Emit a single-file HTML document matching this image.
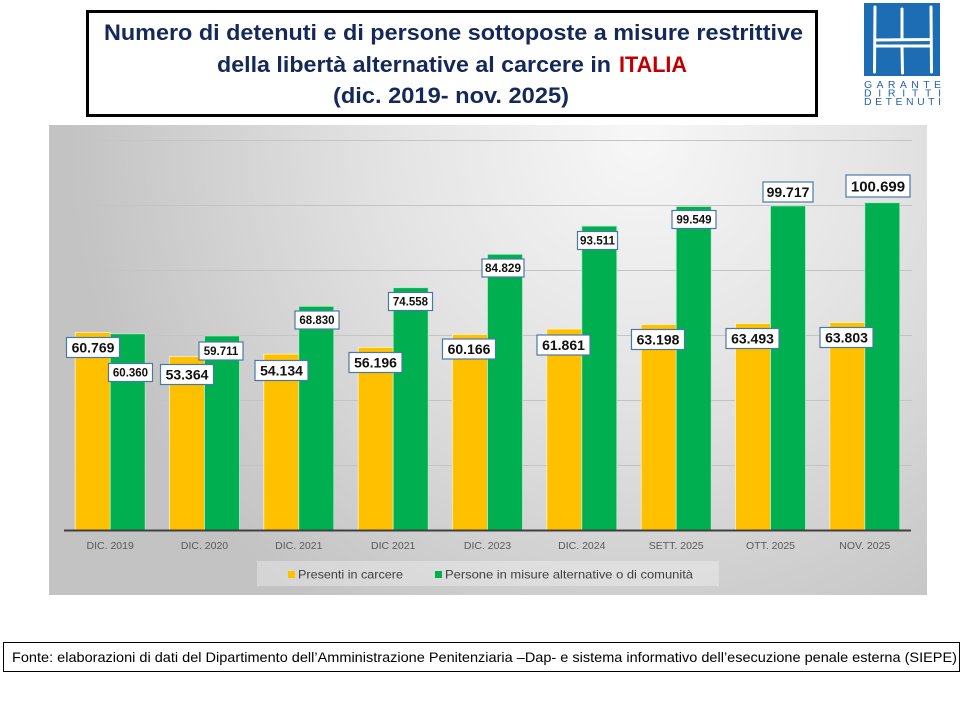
<!DOCTYPE html>
<html>
<head>
<meta charset="utf-8">
<style>
html,body{margin:0;padding:0;background:#fff;}
svg{display:block;}
</style>
</head>
<body>
<svg width="960" height="720" viewBox="0 0 960 720" xmlns="http://www.w3.org/2000/svg">
<defs>
<radialGradient id="bg" gradientUnits="userSpaceOnUse" cx="640" cy="140" r="570">
<stop offset="0" stop-color="#f7f7f7"/>
<stop offset="0.45" stop-color="#e3e3e3"/>
<stop offset="1" stop-color="#c3c3c3"/>
</radialGradient>
</defs>
<rect width="960" height="720" fill="#fff"/>

<!-- Title box -->
<rect x="87.5" y="11.5" width="729" height="104" fill="#fff" stroke="#000" stroke-width="3"/>
<g font-family="'Liberation Sans', sans-serif" font-weight="bold" font-size="22" fill="#14285a">
<text x="104" y="40" textLength="699" lengthAdjust="spacingAndGlyphs">Numero di detenuti e di persone sottoposte a misure restrittive</text>
<text x="217" y="72" textLength="394" lengthAdjust="spacingAndGlyphs">della libertà alternative al carcere in</text>
<text x="619" y="72" textLength="68" lengthAdjust="spacingAndGlyphs" fill="#c00000">ITALIA</text>
<text x="333" y="103" textLength="236" lengthAdjust="spacingAndGlyphs">(dic. 2019- nov. 2025)</text>
</g>

<!-- Logo -->
<rect x="864" y="3" width="76" height="73" fill="#1c6db4"/>
<g stroke="#fff" stroke-width="3" fill="none" stroke-linecap="round">
<path d="M875 7 L874.5 72"/>
<path d="M931 7 L931.5 72"/>
<path d="M902 9 L902 39"/>
<path d="M902 47 L902.5 73"/>
<path d="M875 40 L931 39.5"/>
<path d="M875 46 L931 46"/>
</g>
<g font-family="'Liberation Sans', sans-serif" font-size="10.5" fill="#2466a8">
<text x="864" y="88" textLength="77" lengthAdjust="spacing">GARANTE</text>
<text x="864" y="96.5" textLength="77" lengthAdjust="spacing">DIRITTI</text>
<text x="864" y="105" textLength="77" lengthAdjust="spacing">DETENUTI</text>
</g>

<!-- Chart panel -->
<rect x="49" y="125" width="878" height="470" fill="url(#bg)"/>

<!-- gridlines -->
<g stroke="#c4c4c4" stroke-width="1">
<line x1="63" y1="140.5" x2="912" y2="140.5"/>
<line x1="63" y1="205.5" x2="912" y2="205.5"/>
<line x1="63" y1="270.5" x2="912" y2="270.5"/>
<line x1="63" y1="335.5" x2="912" y2="335.5"/>
<line x1="63" y1="400.5" x2="912" y2="400.5"/>
<line x1="63" y1="465.5" x2="912" y2="465.5"/>
</g>

<!-- bars: yellow -->
<g fill="#ffc000" stroke="#fff3c4" stroke-width="0.8">
<rect x="75.2" y="332.5" width="35" height="197.5"/>
<rect x="169.5" y="356.6" width="35" height="173.4"/>
<rect x="263.8" y="354.1" width="35" height="175.9"/>
<rect x="358.2" y="347.4" width="35" height="182.6"/>
<rect x="452.5" y="334.5" width="35" height="195.5"/>
<rect x="546.8" y="329.0" width="35" height="201.0"/>
<rect x="641.2" y="324.6" width="35" height="205.4"/>
<rect x="735.5" y="323.6" width="35" height="206.4"/>
<rect x="829.8" y="322.6" width="35" height="207.4"/>
</g>
<!-- bars: green -->
<g fill="#00b050" stroke="#b8ecc9" stroke-width="0.8">
<rect x="110.2" y="333.8" width="35" height="196.2"/>
<rect x="204.5" y="335.9" width="35" height="194.1"/>
<rect x="298.8" y="306.3" width="35" height="223.7"/>
<rect x="393.2" y="287.7" width="35" height="242.3"/>
<rect x="487.5" y="254.3" width="35" height="275.7"/>
<rect x="581.8" y="226.1" width="35" height="303.9"/>
<rect x="676.2" y="206.5" width="35" height="323.5"/>
<rect x="770.5" y="205.9" width="35" height="324.1"/>
<rect x="864.8" y="202.7" width="35" height="327.3"/>
</g>

<!-- axis -->
<line x1="64" y1="530.5" x2="911" y2="530.5" stroke="#404040" stroke-width="2"/>

<!-- category labels -->
<g font-family="'Liberation Sans', sans-serif" font-size="10.5" fill="#595959" text-anchor="middle">
<text x="110.2" y="549">DIC. 2019</text>
<text x="204.5" y="549">DIC. 2020</text>
<text x="298.8" y="549">DIC. 2021</text>
<text x="393.2" y="549">DIC 2021</text>
<text x="487.5" y="549">DIC. 2023</text>
<text x="581.8" y="549">DIC. 2024</text>
<text x="676.2" y="549">SETT. 2025</text>
<text x="770.5" y="549">OTT. 2025</text>
<text x="864.8" y="549">NOV. 2025</text>
</g>

<!-- legend -->
<rect x="257" y="561" width="462" height="25" fill="#ffffff" fill-opacity="0.3"/>
<rect x="288" y="571" width="7" height="7" fill="#ffc000"/>
<rect x="435" y="571" width="7" height="7" fill="#00b050"/>
<g font-family="'Liberation Sans', sans-serif" font-size="12" fill="#404040">
<text x="298" y="578.5" textLength="105" lengthAdjust="spacingAndGlyphs">Presenti in carcere</text>
<text x="445" y="578.5" textLength="248" lengthAdjust="spacingAndGlyphs">Persone in misure alternative o di comunità</text>
</g>

<!-- data labels: yellow series -->
<g fill="#fff" stroke="#4a78a6" stroke-width="1.2">
<rect x="66.5" y="337.5" width="53" height="20"/>
<rect x="160.5" y="364.5" width="53" height="20"/>
<rect x="255" y="360.5" width="53" height="20"/>
<rect x="349" y="352.5" width="53" height="20"/>
<rect x="442.5" y="339" width="53" height="20"/>
<rect x="537" y="335" width="53" height="20"/>
<rect x="631.5" y="329.5" width="53" height="20"/>
<rect x="726" y="328.5" width="53" height="20"/>
<rect x="820" y="327.5" width="53" height="20"/>
</g>
<g font-family="'Liberation Sans', sans-serif" font-weight="bold" font-size="14" fill="#111" text-anchor="middle">
<text x="93" y="352.5">60.769</text>
<text x="187" y="379.5">53.364</text>
<text x="281.5" y="375.5">54.134</text>
<text x="375.5" y="367.5">56.196</text>
<text x="469" y="354">60.166</text>
<text x="563.5" y="350">61.861</text>
<text x="658" y="344.5">63.198</text>
<text x="752.5" y="343.5">63.493</text>
<text x="846.5" y="342.5">63.803</text>
</g>

<!-- data labels: green series -->
<g fill="#fff" stroke="#4a78a6" stroke-width="1.2">
<rect x="108.5" y="363.5" width="44" height="18"/>
<rect x="199" y="342" width="44" height="18"/>
<rect x="295" y="311" width="44" height="18"/>
<rect x="388.5" y="292.5" width="44" height="18"/>
<rect x="482" y="259" width="42" height="18"/>
<rect x="577.5" y="231.5" width="40" height="18"/>
<rect x="672" y="210.5" width="44" height="18"/>
<rect x="763" y="182" width="50" height="20"/>
<rect x="846" y="175" width="64" height="22"/>
</g>
<g font-family="'Liberation Sans', sans-serif" font-weight="bold" font-size="11.5" fill="#111" text-anchor="middle">
<text x="130.5" y="376.7">60.360</text>
<text x="221" y="355.2">59.711</text>
<text x="317" y="324.2">68.830</text>
<text x="410.5" y="305.7">74.558</text>
<text x="503" y="272.2" textLength="36" lengthAdjust="spacingAndGlyphs">84.829</text>
<text x="597.5" y="244.7" textLength="35" lengthAdjust="spacingAndGlyphs">93.511</text>
<text x="694" y="223.7">99.549</text>
</g>
<g font-family="'Liberation Sans', sans-serif" font-weight="bold" fill="#111" text-anchor="middle">
<text x="788" y="197" font-size="14">99.717</text>
<text x="878" y="191.5" font-size="15">100.699</text>
</g>

<!-- footer -->
<rect x="3.5" y="642.5" width="956" height="29" fill="#fff" stroke="#000" stroke-width="1"/>
<text x="12" y="662" font-family="'Liberation Sans', sans-serif" font-size="14" fill="#000" textLength="945" lengthAdjust="spacingAndGlyphs">Fonte: elaborazioni di dati del Dipartimento dell’Amministrazione Penitenziaria –Dap- e sistema informativo dell’esecuzione penale esterna (SIEPE)</text>
</svg>
</body>
</html>
